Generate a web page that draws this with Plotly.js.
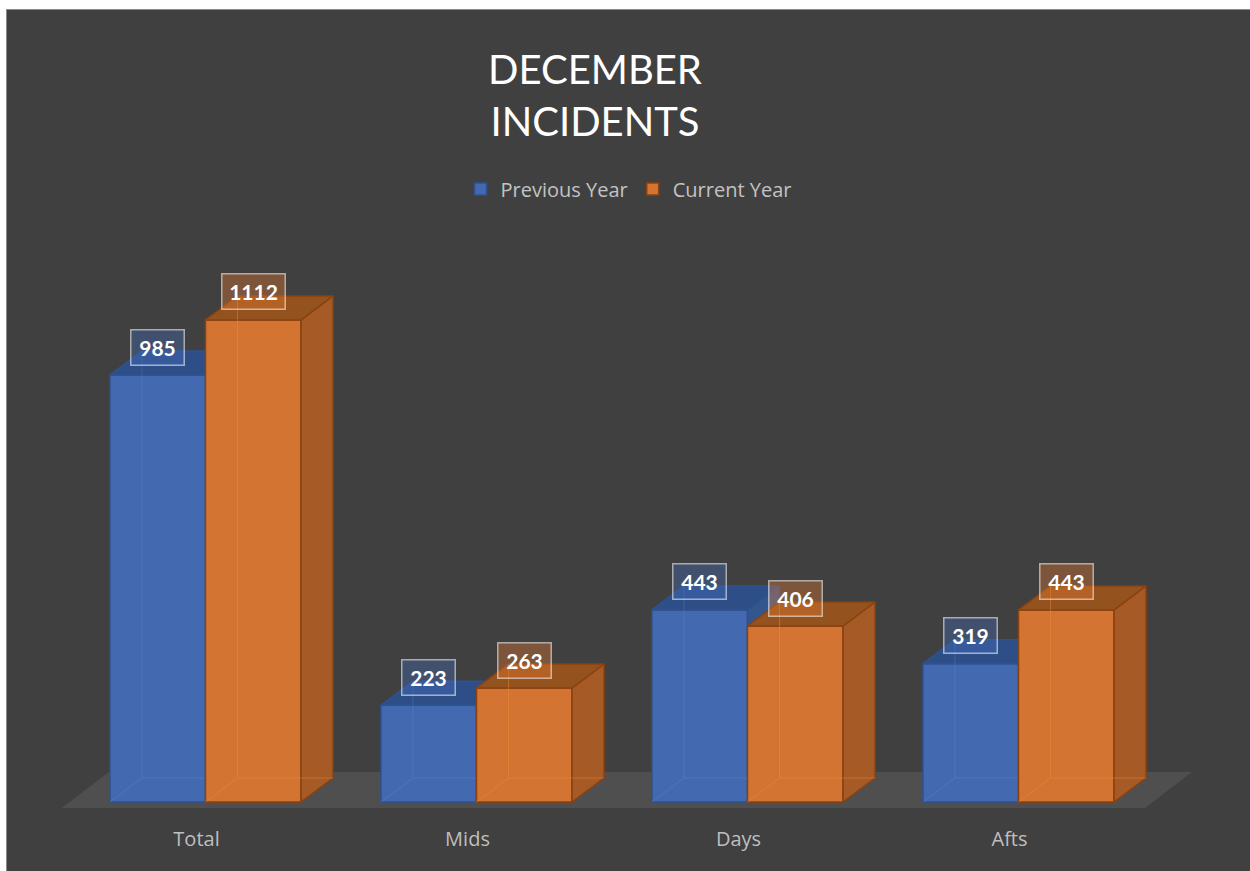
<!DOCTYPE html>
<html><head><meta charset="utf-8">
<script src="https://cdn.plot.ly/plotly-3.0.1.min.js"></script>
<style>
html,body{margin:0;padding:0;background:#ffffff;width:1250px;height:871px;overflow:hidden}
#frame{position:absolute;left:6px;top:9px;width:1244px;height:862px;background:#8a8a8a}
#chart{position:absolute;left:7px;top:10px;width:1243px;height:861px}
</style></head><body>
<div id="frame"></div><div id="chart"></div>
<script>
// ---- data ----
const categories = ['Total', 'Mids', 'Days', 'Afts'];
const previousYear = [985, 223, 443, 319];
const currentYear = [1112, 263, 406, 443];
const seriesNames = ['Previous Year', 'Current Year'];
const titleText = 'DECEMBER<br>INCIDENTS';

// ---- style ----
const barW = 0.3525;        // width of a bar in category units
const depthX = 0.118;       // 3D depth offset (x, category units)
const depthY = 55.4;        // 3D depth offset (y, value units)
const styles = [
  {front: '#436AB0', line: '#2F528F', side: '#33568f', top: '#2E4E87',
   inner: 'rgba(95,145,225,0.3)', label: 'rgba(68,114,196,0.35)', xa: 'x'},
  {front: '#D37433', line: '#8A420F', side: '#A65A26', top: '#94521F',
   inner: 'rgba(240,140,55,0.45)', label: 'rgba(237,125,49,0.35)', xa: 'x2'}
];
const series = [previousYear, currentYear];
const xIdx = categories.map((c, i) => i);

const traces = [];
const annotations = [];
series.forEach((vals, s) => {
  const st = styles[s];
  const off = s === 0 ? -barW : 0;
  // front faces
  traces.push({
    type: 'bar', name: seriesNames[s], x: xIdx, y: vals, xaxis: st.xa, yaxis: 'y',
    width: barW, offset: off,
    marker: {color: st.front, line: {color: st.line, width: 1.5}},
    hoverinfo: 'skip'
  });
  const ix = [], iy = [];
  vals.forEach((v, i) => {
    const xl = i + off, xr = xl + barW;
    // side face
    traces.push({
      type: 'scatter', mode: 'lines', xaxis: st.xa, yaxis: 'y', showlegend: false, hoverinfo: 'skip',
      x: [xr, xr + depthX, xr + depthX, xr, xr],
      y: [0, depthY, v + depthY, v, 0],
      fill: 'toself', fillcolor: st.side, line: {color: st.line, width: 1.5}
    });
    // top face
    traces.push({
      type: 'scatter', mode: 'lines', xaxis: st.xa, yaxis: 'y', showlegend: false, hoverinfo: 'skip',
      x: [xl, xl + depthX, xr + depthX, xr, xl],
      y: [v, v + depthY, v + depthY, v, v],
      fill: 'toself', fillcolor: st.top, line: {color: st.line, width: 1.5}
    });
    // hidden back edges seen through the translucent faces
    ix.push(xl, xl + depthX, xr + depthX, null, xl + depthX, xl + depthX, null);
    iy.push(0, depthY, depthY, null, depthY, v + depthY, null);
    // data label
    const txt = String(v);
    annotations.push({
      x: i + off + barW / 2, y: v, xref: st.xa, yref: 'y',
      text: '<b>' + txt + '</b>', showarrow: false, yanchor: 'middle', yshift: 28,
      font: {family: 'Lato, "Open Sans", sans-serif', size: 21, color: '#ffffff'},
      bgcolor: st.label, bordercolor: 'rgba(255,255,255,0.55)', borderwidth: 1.5, borderpad: 2,
      width: 18 + 10 * txt.length, height: 30
    });
  });
  traces.push({
    type: 'scatter', mode: 'lines', xaxis: st.xa, yaxis: 'y', showlegend: false, hoverinfo: 'skip',
    x: ix, y: iy, line: {color: st.inner, width: 1}, connectgaps: false
  });
});

// floor
const fl = -0.53, fr = categories.length - 0.533, fy0 = -13.8, fy1 = 69.2, fdx = 0.173;
const floorPath = `M${fl},${fy0} L${fr},${fy0} L${fr + fdx},${fy1} L${fl + fdx},${fy1} Z`;

const xRange = [-0.548, 3.6697];
const layout = {
  width: 1243, height: 861,
  paper_bgcolor: '#404040', plot_bgcolor: 'rgba(0,0,0,0)',
  margin: {l: 50, r: 50, t: 80, b: 49, autoexpand: false},
  title: {
    text: titleText, x: 588 / 1243, xref: 'container', xanchor: 'center',
    y: 1 - 74 / 861, yref: 'container', yanchor: 'top',
    font: {family: 'Lato, "Open Sans", sans-serif', size: 40, color: '#ffffff'}
  },
  showlegend: true,
  legend: {
    orientation: 'h', x: 0.5, xanchor: 'center', y: (812 - 179) / 732, yanchor: 'middle',
    font: {family: '"Open Sans", sans-serif', size: 20, color: '#c3c3c3'},
    bgcolor: 'rgba(0,0,0,0)', traceorder: 'normal'
  },
  barmode: 'overlay',
  xaxis: {
    range: xRange, tickvals: xIdx, ticktext: categories, showgrid: false, zeroline: false,
    showline: false, ticks: '', ticklabelshift: -9, ticklabelstandoff: 3, fixedrange: true,
    tickfont: {family: '"Open Sans", sans-serif', size: 20, color: '#bfbfbf'}
  },
  xaxis2: {range: xRange, overlaying: 'x', visible: false, fixedrange: true},
  yaxis: {range: [-46.1, 1642.4], visible: false, fixedrange: true},
  shapes: [{type: 'path', xref: 'x', yref: 'y', path: floorPath, fillcolor: '#504f4f',
            line: {width: 0}, layer: 'below'}],
  annotations: annotations
};
Plotly.newPlot('chart', traces, layout, {displayModeBar: false, staticPlot: true});
</script></body></html>
